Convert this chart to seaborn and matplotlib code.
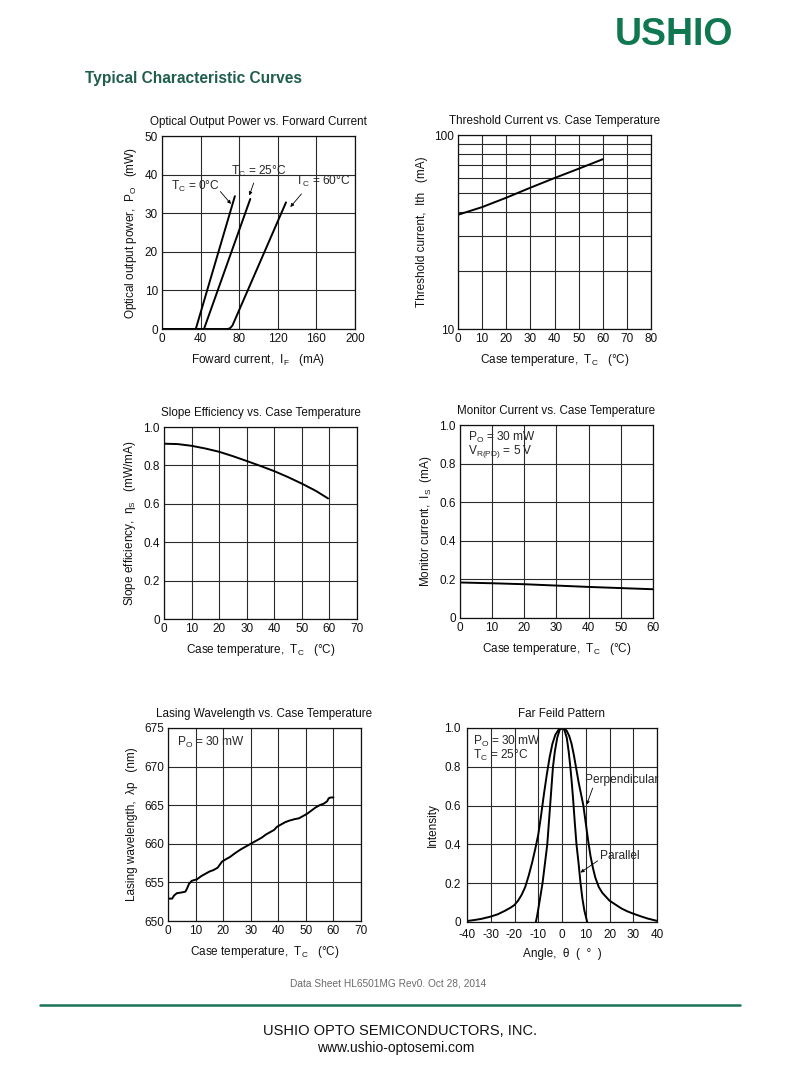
import matplotlib
matplotlib.use("Agg")
import matplotlib.pyplot as plt
import seaborn as sns
import pandas as pd

# ---------------- data ----------------
# Optical output power vs forward current
if_0c = [0, 35.0, 75.5]
po_0c = [0, 0, 34.4]
if_25c = [0, 43.5, 91.5]
po_25c = [0, 0, 33.7]
if_60c = [0, 68.0, 70.5, 73.0, 128.5]
po_60c = [0, 0, 0.2, 0.9, 32.8]

# Threshold current vs case temperature
th_temp = [0, 10, 20, 30, 40, 50, 60]
th_current = [38.8, 42.5, 47.5, 53.5, 60.0, 67.0, 75.0]

# Slope efficiency vs case temperature
se_temp = [0, 5, 10, 15, 20, 25, 30, 35, 40, 45, 50, 55, 59.5]
se_eff = [0.913, 0.911, 0.902, 0.888, 0.871, 0.848, 0.823, 0.797, 0.770, 0.739, 0.705, 0.668, 0.628]

# Monitor current vs case temperature
mc_temp = [0, 10, 20, 30, 40, 50, 60]
mc_current = [0.184, 0.180, 0.175, 0.168, 0.161, 0.155, 0.149]

# Lasing wavelength vs case temperature
lw_temp = [0, 1.5, 2.2, 3.2, 5.0, 6.3, 6.9, 7.6, 8.6, 9.5, 10.5, 12.0, 13.5, 15.0, 16.5, 18.0,
           18.8, 19.6, 21.0, 22.5, 24.0, 25.2, 26.5, 28.0, 29.5, 31.0, 32.5, 34.0, 35.5, 37.0,
           38.5, 39.5, 41.0, 42.5, 44.0, 46.0, 47.5, 49.0, 50.5, 52.0, 53.5, 55.0, 56.5, 57.7,
           58.3, 59.0, 60.0]
lw_wave = [652.9, 652.9, 653.3, 653.6, 653.7, 653.8, 654.2, 654.8, 655.2, 655.3, 655.4, 655.8, 656.1,
           656.4, 656.6, 656.9, 657.3, 657.7, 658.0, 658.3, 658.7, 659.0, 659.3, 659.6, 659.9,
           660.2, 660.5, 660.8, 661.2, 661.5, 661.8, 662.2, 662.5, 662.8, 663.0, 663.2, 663.3,
           663.6, 663.9, 664.3, 664.7, 665.0, 665.2, 665.5, 665.9, 666.0, 666.0]

# Far field pattern
ff_angle_perp = [-40, -37, -34, -30, -27, -24, -21.5, -20, -18.5, -17, -15.5, -14, -12.5, -11.2,
                 -10, -8.8, -7.6, -6.4, -5.2, -4, -2.8, -1.5, 0, 1, 2, 3, 4, 5, 6, 7, 8, 9, 10,
                 11, 12, 13, 14, 15.5, 17, 18.5, 20, 22.5, 25, 27.5, 30, 33, 36, 40]
ff_int_perp = [0.005, 0.01, 0.016, 0.028, 0.04, 0.058, 0.075, 0.088, 0.11, 0.14, 0.18, 0.24, 0.31,
               0.38, 0.45, 0.55, 0.66, 0.76, 0.85, 0.92, 0.965, 0.99, 1.0, 1.0, 0.985, 0.96, 0.92,
               0.86, 0.79, 0.72, 0.66, 0.60, 0.51, 0.42, 0.34, 0.28, 0.23, 0.18, 0.15, 0.13, 0.11,
               0.09, 0.07, 0.055, 0.043, 0.03, 0.018, 0.006]
ff_angle_par = [-11.0, -10.5, -9.8, -9.0, -8.2, -7.2, -6.2, -5.6, -5.0, -4.4, -3.8, -3.0, -2.0,
                -1.0, 0.0, 1.0, 2.0, 2.8, 3.5, 4.1, 4.7, 5.4, 6.1, 7.0, 7.8, 8.6, 9.4, 10.0, 10.6]
ff_int_par = [0.0, 0.03, 0.08, 0.14, 0.20, 0.30, 0.40, 0.50, 0.60, 0.70, 0.80, 0.88, 0.95, 0.99,
              1.0, 0.99, 0.95, 0.88, 0.80, 0.72, 0.63, 0.51, 0.40, 0.30, 0.20, 0.12, 0.06, 0.03,
              0.0]

# ---------------- style ----------------
sns.set_theme(style="white")
plt.rcParams['font.family'] = ['Liberation Sans', 'DejaVu Sans']
plt.rcParams['mathtext.fontset'] = 'custom'
plt.rcParams['mathtext.rm'] = 'Liberation Sans'
plt.rcParams['mathtext.it'] = 'Liberation Sans'
plt.rcParams['mathtext.default'] = 'regular'
plt.rcParams['axes.unicode_minus'] = False

fig = plt.figure(figsize=(8.0, 10.76), dpi=100)
W, H = 800.0, 1076.0


def rect(x0, y0, x1, y1):
    return [x0 / W, 1 - y1 / H, (x1 - x0) / W, (y1 - y0) / H]


GRID = '#2a2a2a'
TFS = 8.4
LFS = 8.5
KFS = 8.5
afs = 8.6


def style_ax(ax, title, xlabel, ylabel):
    ax.set_title(title, fontsize=TFS, pad=8, color='#111111')
    ax.set_xlabel(xlabel, fontsize=LFS, labelpad=5, color='#111111')
    ax.set_ylabel(ylabel, fontsize=LFS, labelpad=4, color='#111111')
    ax.grid(True, which='both', color=GRID, lw=0.8)
    ax.set_axisbelow(True)
    ax.tick_params(length=0, labelsize=KFS, pad=3, colors='#111111')
    for s in ax.spines.values():
        s.set_visible(True)
        s.set_color('#111111')
        s.set_linewidth(0.9)


LINE = dict(color='black', linewidth=1.4, sort=False, estimator=None, legend=False)
arr = dict(arrowstyle='-|>', lw=0.6, color='black', mutation_scale=5, shrinkA=0, shrinkB=0)

# ---- Panel 1 ----
ax1 = fig.add_axes(rect(162, 136, 355, 329))
df1 = pd.concat([
    pd.DataFrame({'I': if_0c, 'P': po_0c, 'T': '0'}),
    pd.DataFrame({'I': if_25c, 'P': po_25c, 'T': '25'}),
    pd.DataFrame({'I': if_60c, 'P': po_60c, 'T': '60'}),
])
sns.lineplot(data=df1, x='I', y='P', hue='T', units='T',
             palette={'0': 'black', '25': 'black', '60': 'black'},
             linewidth=1.4, sort=False, estimator=None, legend=False, ax=ax1)
ax1.set_xlim(0, 200)
ax1.set_ylim(0, 50)
ax1.set_xticks([0, 40, 80, 120, 160, 200])
ax1.set_yticks([0, 10, 20, 30, 40, 50])
style_ax(ax1, 'Optical Output Power vs. Forward Current',
         'Foward current,  $I_F$   (mA)', 'Optical output power,  $P_O$   (mW)')
ax1.text(9, 37.0, '$T_C$ = 0°C', fontsize=afs, va='center', ha='left')
ax1.annotate('', xy=(71.5, 32.4), xytext=(60.5, 35.6), arrowprops=arr)
ax1.text(72, 40.8, '$T_C$ = 25°C', fontsize=afs, va='center', ha='left')
ax1.annotate('', xy=(90.5, 34.6), xytext=(95.0, 37.8), arrowprops=arr)
ax1.text(137.5, 38.2, '$T_C$ = 60°C', fontsize=afs, va='center', ha='left')
ax1.annotate('', xy=(133.0, 31.6), xytext=(144.5, 35.0), arrowprops=arr)

# ---- Panel 2 ----
ax2 = fig.add_axes(rect(458, 135, 651, 329))
df2 = pd.DataFrame({'T': th_temp, 'I': th_current})
sns.lineplot(data=df2, x='T', y='I', ax=ax2, **LINE)
ax2.set_yscale('log')
ax2.set_xlim(0, 80)
ax2.set_ylim(10, 100)
ax2.set_xticks(list(range(0, 81, 10)))
ax2.set_yticks([10, 100])
ax2.set_yticklabels(['10', '100'])
ax2.set_yticks([20, 30, 40, 50, 60, 70, 80, 90], minor=True)
ax2.set_yticklabels([], minor=True)
style_ax(ax2, 'Threshold Current vs. Case Temperature',
         'Case temperature,  $T_C$   (°C)', 'Threshold current,  Ith   (mA)')
ax2.tick_params(which='minor', length=0)

# ---- Panel 3 ----
ax3 = fig.add_axes(rect(164, 427, 357, 619))
df3 = pd.DataFrame({'T': se_temp, 'E': se_eff})
sns.lineplot(data=df3, x='T', y='E', ax=ax3, **LINE)
ax3.set_xlim(0, 70)
ax3.set_ylim(0, 1.0)
ax3.set_xticks(list(range(0, 71, 10)))
ax3.set_yticks([0, 0.2, 0.4, 0.6, 0.8, 1.0])
ax3.set_yticklabels(['0', '0.2', '0.4', '0.6', '0.8', '1.0'])
style_ax(ax3, 'Slope Efficiency vs. Case Temperature',
         'Case temperature,  $T_C$   (°C)', 'Slope efficiency,  η$_S$   (mW/mA)')

# ---- Panel 4 ----
ax4 = fig.add_axes(rect(460, 425, 653, 618))
df4 = pd.DataFrame({'T': mc_temp, 'I': mc_current})
sns.lineplot(data=df4, x='T', y='I', ax=ax4, **LINE)
ax4.set_xlim(0, 60)
ax4.set_ylim(0, 1.0)
ax4.set_xticks(list(range(0, 61, 10)))
ax4.set_yticks([0, 0.2, 0.4, 0.6, 0.8, 1.0])
ax4.set_yticklabels(['0', '0.2', '0.4', '0.6', '0.8', '1.0'])
style_ax(ax4, 'Monitor Current vs. Case Temperature',
         'Case temperature,  $T_C$   (°C)', 'Monitor current,  $I_S$  (mA)')
ax4.text(2.5, 0.935, '$P_O$ = 30 mW', fontsize=afs, va='center', ha='left')
ax4.text(2.5, 0.862, '$V_{R(PD)}$ = 5 V', fontsize=afs, va='center', ha='left')

# ---- Panel 5 ----
ax5 = fig.add_axes(rect(168, 728, 361, 921))
df5 = pd.DataFrame({'T': lw_temp, 'L': lw_wave})
sns.lineplot(data=df5, x='T', y='L', ax=ax5, **LINE)
ax5.set_xlim(0, 70)
ax5.set_ylim(650, 675)
ax5.set_xticks(list(range(0, 71, 10)))
ax5.set_yticks([650, 655, 660, 665, 670, 675])
style_ax(ax5, 'Lasing Wavelength vs. Case Temperature',
         'Case temperature,  $T_C$   (°C)', 'Lasing wavelength,  λp   (nm)')
ax5.text(3.2, 673.1, '$P_O$ = 30 mW', fontsize=afs, va='center', ha='left')

# ---- Panel 6 ----
ax6 = fig.add_axes(rect(467, 728, 657, 922))
df6 = pd.concat([
    pd.DataFrame({'A': ff_angle_perp, 'I': ff_int_perp, 'S': 'Perpendicular'}),
    pd.DataFrame({'A': ff_angle_par, 'I': ff_int_par, 'S': 'Parallel'}),
])
sns.lineplot(data=df6, x='A', y='I', hue='S', units='S',
             palette={'Perpendicular': 'black', 'Parallel': 'black'},
             linewidth=1.4, sort=False, estimator=None, legend=False, ax=ax6)
ax6.set_xlim(-40, 40)
ax6.set_ylim(0, 1.0)
ax6.set_xticks(list(range(-40, 41, 10)))
ax6.set_yticks([0, 0.2, 0.4, 0.6, 0.8, 1.0])
ax6.set_yticklabels(['0', '0.2', '0.4', '0.6', '0.8', '1.0'])
style_ax(ax6, 'Far Feild Pattern', 'Angle,  θ  (  °  )', 'Intensity')
ax6.tick_params(axis='x', pad=5)
ax6.tick_params(axis='y', pad=4.5)
ax6.text(-37.5, 0.93, '$P_O$ = 30 mW', fontsize=afs, va='center', ha='left')
ax6.text(-37.5, 0.86, '$T_C$ = 25°C', fontsize=afs, va='center', ha='left')
ax6.text(9.5, 0.73, 'Perpendicular', fontsize=afs, va='center', ha='left')
ax6.annotate('', xy=(10.4, 0.605), xytext=(12.9, 0.69), arrowprops=arr)
ax6.text(16.0, 0.34, 'Parallel', fontsize=afs, va='center', ha='left')
ax6.annotate('', xy=(7.8, 0.255), xytext=(15.0, 0.315), arrowprops=arr)

# ---------------- page decorations ----------------
fig.text(733 / W, 1 - 35 / H, 'USHIO', fontsize=27, fontweight='bold',
         color='#107850', ha='right', va='center')
fig.text(85 / W, 1 - 78 / H, 'Typical Characteristic Curves', fontsize=11.2,
         fontweight='bold', color='#1f5e4b', ha='left', va='center')
fig.text(388 / W, 1 - 984 / H, 'Data Sheet HL6501MG Rev0. Oct 28, 2014', fontsize=7.3,
         color='#6a6a6a', ha='center', va='center')
fig.add_artist(plt.Line2D([40 / W, 740 / W], [1 - 1005 / H, 1 - 1005 / H],
                          color='#1b7256', lw=1.8, transform=fig.transFigure))
fig.text(400 / W, 1 - 1031 / H, 'USHIO OPTO SEMICONDUCTORS, INC.', fontsize=10.5,
         color='#111111', ha='center', va='center')
fig.text(396 / W, 1 - 1048 / H, 'www.ushio-optosemi.com', fontsize=10.0,
         color='#111111', ha='center', va='center')

fig.savefig('out.png', dpi=100, facecolor='white')
